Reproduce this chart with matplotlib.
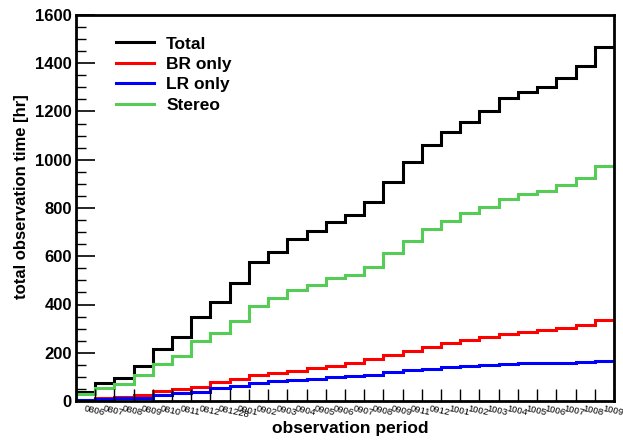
import numpy as np
import matplotlib.pyplot as plt
from matplotlib.ticker import MultipleLocator, FixedLocator, NullFormatter

# observation periods (one bin each)
periods = ["0806", "0807", "0808", "0809", "0810", "0811", "0812", "081228",
           "0901", "0902", "0903", "0904", "0905", "0906", "0907", "0908",
           "0909", "0911", "0912", "1001", "1002", "1003", "1004", "1005",
           "1006", "1007", "1008", "1009"]

# cumulative observation time [hr]
total = [37, 75, 95, 145, 215, 265, 350, 410, 490, 575, 618, 670, 705, 740,
         770, 826, 908, 990, 1061, 1115, 1157, 1202, 1256, 1281, 1302, 1339,
         1389, 1467]
br_only = [6, 12, 17, 25, 41, 50, 58, 79, 90, 108, 115, 126, 136, 146,
           156, 173, 191, 208, 225, 241, 252, 267, 278, 285, 294, 302,
           316, 336]
lr_only = [4, 8, 11, 13, 25, 32, 38, 52, 62, 74, 81, 87, 93, 98,
           102, 108, 119, 127, 134, 140, 145, 149, 152, 156, 157, 159,
           163, 166]
stereo = [28, 54, 70, 108, 153, 188, 249, 283, 333, 394, 428, 460, 481, 508,
          522, 556, 613, 663, 713, 746, 778, 804, 837, 857, 871, 895,
          924, 975]

FONT = "Liberation Sans"
plt.rcParams["font.family"] = [FONT, "DejaVu Sans"]

W, H = 623, 441
fig = plt.figure(figsize=(W / 100, H / 100), dpi=100)
ax = fig.add_axes([76 / W, 40 / H, 538 / W, 386 / H])

edges = np.arange(len(periods) + 1)
series = [
    (total, "Total", "black"),
    (br_only, "BR only", "#ff0000"),
    (lr_only, "LR only", "#0000ff"),
    (stereo, "Stereo", "#55cc55"),
]
for vals, label, color in series:
    ax.stairs(vals, edges, baseline=None, color=color, linewidth=2.2,
              label=label)

ax.set_xlim(0, len(periods))
ax.set_ylim(0, 1600)

# y axis: ROOT-like inward ticks on the left only
ax.yaxis.set_major_locator(MultipleLocator(200))
ax.yaxis.set_minor_locator(MultipleLocator(50))
ax.tick_params(axis="y", which="major", direction="in", length=14, width=1.2,
               labelsize=12, pad=3, right=False)
ax.tick_params(axis="y", which="minor", direction="in", length=7, width=1.0,
               right=False)
for lab in ax.get_yticklabels():
    lab.set_fontweight("bold")

# x axis: ticks at bin edges, labels at bin centres
ax.xaxis.set_major_locator(FixedLocator(edges))
ax.xaxis.set_major_formatter(NullFormatter())
ax.tick_params(axis="x", which="major", direction="in", length=9, width=1.0,
               top=False)
for i, p in enumerate(periods):
    ax.text(i + 0.45, -12, p, fontsize=6.8, ha="left", va="top",
            rotation=-12, rotation_mode="anchor", clip_on=False)

for sp in ax.spines.values():
    sp.set_linewidth(2.0)

fig.text(22 / W, 1 - 197 / H, "total observation time [hr]", fontsize=12,
         fontweight="bold", rotation=90, ha="center", va="center")
fig.text(350 / W, 1 - 428 / H, "observation period", fontsize=12.5,
         fontweight="bold", ha="center", va="center")

leg = ax.legend(loc="upper left", bbox_to_anchor=(0.045, 0.985), frameon=False,
                prop={"family": FONT, "weight": "bold", "size": 12.5},
                handlelength=2.2, handletextpad=0.7, labelspacing=0.3)
for h in leg.get_lines():
    h.set_linewidth(2.2)

fig.savefig("out.png", dpi=100)
